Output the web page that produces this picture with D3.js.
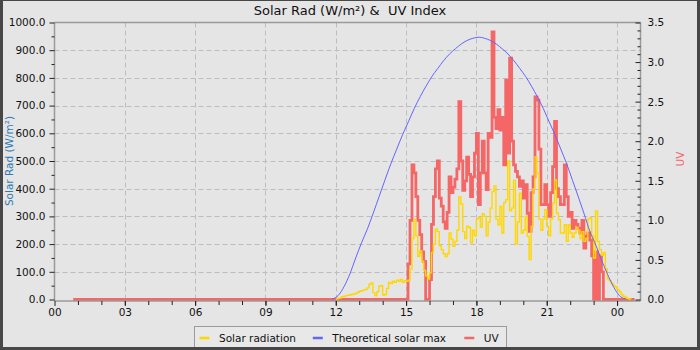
<!DOCTYPE html>
<html><head><meta charset="utf-8">
<script src="https://cdn.jsdelivr.net/npm/d3@7"></script>
<style>
body{margin:0;background:#e5e5e5;}
svg{display:block;font-family:"DejaVu Sans",sans-serif;}
</style>
</head><body>
<svg id="chart" width="700" height="350"></svg>
<script>
// ---------- texts / ticks ----------
const chartTitle = "Solar Rad (W/m²) &  UV Index";
const leftAxisLabel = "Solar Rad (W/m²)";
const rightAxisLabel = "UV";
const xTickHours = [0, 3, 6, 9, 12, 15, 18, 21, 24];
const xTickLabels = ["00", "03", "06", "09", "12", "15", "18", "21", "00"];
const leftTicks = [0, 100, 200, 300, 400, 500, 600, 700, 800, 900, 1000];
const rightTicks = [0, 0.5, 1.0, 1.5, 2.0, 2.5, 3.0, 3.5];
const legendLabels = ["Solar radiation", "Theoretical solar max", "UV"];

// ---------- data ----------
const stepMinutes = 5;
// Solar radiation (W/m²), every 5 min from 12:00
const radStart = "12:00";
const radValues = [
  2,4,6,10,12,14,15,17,18,20,22,26,30,32,34,36,42,55,60,25,14,28,48,50,16,18,40,62,58,66,62,70,66,72,62,68,
  66,70,110,220,290,230,156,175,138,105,86,74,96,170,200,255,245,195,180,165,155,165,240,218,192,210,250,370,345,245,
  220,265,260,205,250,230,290,295,262,310,300,
  230,280,330,390,410,290,270,336,240,350,360,500,320,330,430,200,280,384,240,250,300,228,144,264,400,515,456,290,250,290,
  324,264,230,290,348,432,312,288,240,240,
  270,210,270,240,225,240,260,250,220,245,210,220,290,295,230,150,320,210,180,160,170,110,75,68,58,50,46,36,28,18,
  12,8,4,2,0
];
// Theoretical solar max (W/m²), every 15 min from 11:51
const theoStart = "11:51";
const theoStepMinutes = 15;
const theoValues = [
  2,14,46,92,150,205,255,312,372,432,490,543,595,642,690,732,770,805,834,862,886,905,922,935,943,947,
  943,935,922,905,886,862,834,805,770,732,690,642,595,543,490,430,370,308,244,195,140,90,46,14,2
];
// UV index: zero from 00:48, then every 5 min from 15:00
const uvLeadTimes = ["00:48"];
const uvLeadValues = [0];
const uvStart = "15:00";
const uvValues = [
  0,0.45,1.0,1.7,1.6,1.3,1.0,0.82,0.6,0.48,0,0,0.25,0.95,1.3,1.65,1.75,1.28,1.18,0.98,
  0.9,1.1,1.55,1.35,1.42,1.52,1.65,2.5,1.75,1.38,1.5,1.8,1.58,1.3,1.55,1.85,2.1,1.2,1.6,2.0,
  1.6,1.39,2.1,2.05,3.38,2.3,2.16,2.4,2.14,2.3,1.7,2.77,1.85,3.05,2.0,1.7,1.62,1.55,1.43,1.5,
  1.28,1.45,1.09,0.86,1.35,1.55,2.56,2.52,1.9,1.2,1.2,1.45,1.2,1.05,1.35,1.68,2.25,1.4,1.3,1.2,
  1.2,1.7,1.3,1.05,1.1,0.9,1.0,0.95,0.9,0.84,1.0,0.65,0.8,0.84,0.75,0.55,0,0.6,0,0.55,
  0.35,0,0,0,0,0,0,0,0,0,0,0,0,0,0,0,0,0
];

// ---------- helpers ----------
const toH = s => { const [h, m] = s.split(":").map(Number); return h + m / 60; };
const radSeries = radValues.map((v, i) => ({t: toH(radStart) + i * stepMinutes / 60, v}));
const theoSeries = theoValues.map((v, i) => ({t: toH(theoStart) + i * theoStepMinutes / 60, v}));
const uvSeries = uvLeadTimes.map((s, i) => ({t: toH(s), v: uvLeadValues[i]}))
  .concat(uvValues.map((v, i) => ({t: toH(uvStart) + i * stepMinutes / 60, v})));

// ---------- layout ----------
const W = 700, H = 350;
const L = 54.5, R = 640.5, T = 22.5, B = 299.5;
const colSolar = "#ffd700", colTheo = "#6464ff", colUV = "#f56666", colLeftLbl = "#2b7ab3";
const svg = d3.select("#chart");

const x = d3.scaleLinear().domain([0, 25]).range([L, R]);
const yL = d3.scaleLinear().domain([0, 1000]).range([B, T]);
const yR = d3.scaleLinear().domain([0, 3.5]).range([B, T]);

svg.append("rect").attr("width", W).attr("height", H).attr("fill", "#e5e5e5");

// grid
const grid = svg.append("g").attr("stroke", "#bdbdbd").attr("stroke-width", 1).attr("stroke-dasharray", "5,3");
grid.selectAll("line.h").data(leftTicks.filter(d => d > 0 && d < 1000)).join("line")
  .attr("x1", L).attr("x2", R).attr("y1", d => Math.round(yL(d)) + 0.5).attr("y2", d => Math.round(yL(d)) + 0.5);
grid.selectAll("line.v").data(xTickHours.filter(d => d > 0)).join("line")
  .attr("y1", T).attr("y2", B + 1).attr("x1", d => Math.round(x(d)) + 0.5).attr("x2", d => Math.round(x(d)) + 0.5);

// series
const clipId = "plotclip";
svg.append("clipPath").attr("id", clipId).append("rect").attr("x", L).attr("y", T - 2).attr("width", R - L).attr("height", B - T + 4);
const plot = svg.append("g").attr("clip-path", `url(#${clipId})`);

plot.append("path").datum(uvSeries)
  .attr("fill", "none").attr("stroke", colUV).attr("stroke-width", 2.8)
  .attr("d", d3.line().x(d => x(d.t)).y(d => yR(d.v)).curve(d3.curveStepAfter));
plot.append("path").datum(radSeries)
  .attr("fill", "none").attr("stroke", colSolar).attr("stroke-width", 1.4)
  .attr("d", d3.line().x(d => x(d.t)).y(d => yL(d.v)).curve(d3.curveStepAfter));
plot.append("path").datum(theoSeries)
  .attr("fill", "none").attr("stroke", colTheo).attr("stroke-width", 1)
  .attr("d", d3.line().x(d => x(d.t)).y(d => yL(d.v)).curve(d3.curveMonotoneX));

// frame lines
const frame = svg.append("g").attr("stroke", "#9a9a9a").attr("stroke-width", 1.5);
frame.append("line").attr("x1", L).attr("x2", L).attr("y1", T).attr("y2", B + 1.5);
frame.append("line").attr("x1", R).attr("x2", R).attr("y1", T).attr("y2", B + 1.5);
frame.append("line").attr("x1", L).attr("x2", R).attr("y1", T).attr("y2", T);
frame.append("line").attr("x1", L).attr("x2", R).attr("y1", B + 1.5).attr("y2", B + 1.5);

function styleAxis(g) {
  g.select(".domain").remove();
  g.selectAll(".tick line").attr("stroke", "#222");
  g.selectAll(".tick text").attr("fill", "#111").style("font-size", "10.5px").style("font-family", "DejaVu Sans");
}

// bottom axis
const labelOf = h => xTickLabels[xTickHours.indexOf(h)];
svg.append("g").attr("transform", `translate(0,${B + 1.5})`)
  .call(d3.axisBottom(x).tickValues(d3.range(1, 25)).tickSize(4).tickFormat(""))
  .call(styleAxis);
svg.append("g").attr("transform", `translate(0,${B + 1.5})`)
  .call(d3.axisBottom(x).tickValues(xTickHours).tickSize(5).tickPadding(3).tickFormat(labelOf))
  .call(styleAxis);

// left axis
svg.append("g").attr("transform", `translate(${L},0)`)
  .call(d3.axisLeft(yL).tickValues(leftTicks.slice(0, -1).map(d => d + 50)).tickSize(3).tickFormat(""))
  .call(styleAxis);
svg.append("g").attr("transform", `translate(${L},0)`)
  .call(d3.axisLeft(yL).tickValues(leftTicks).tickSize(5).tickPadding(4).tickFormat(d3.format(".1f")))
  .call(styleAxis);

// right axis (ticks pointing inward)
const minorR = d3.range(0, 35).map(i => i / 10).filter(v => Math.abs(v * 2 - Math.round(v * 2)) > 1e-6);
svg.append("g").attr("transform", `translate(${R},0)`)
  .call(d3.axisRight(yR).tickValues(minorR).tickSizeInner(-3).tickSizeOuter(0).tickFormat(""))
  .call(styleAxis);
svg.append("g").attr("transform", `translate(${R},0)`)
  .call(d3.axisRight(yR).tickValues(rightTicks).tickSizeInner(-5).tickSizeOuter(0).tickPadding(7).tickFormat(d3.format(".1f")))
  .call(styleAxis);

// title & axis labels
svg.append("text").attr("x", 350).attr("y", 15).attr("text-anchor", "middle")
  .style("font-size", "13px").style("white-space", "pre").attr("xml:space", "preserve")
  .attr("fill", "#111").text(chartTitle);
svg.append("text").attr("transform", "translate(13,161) rotate(-90)").attr("text-anchor", "middle")
  .style("font-size", "10.5px").attr("fill", colLeftLbl).text(leftAxisLabel);
svg.append("text").attr("transform", "translate(684,159) rotate(-90)").attr("text-anchor", "middle")
  .style("font-size", "10.5px").attr("fill", colUV).text(rightAxisLabel);

// legend
const lg = svg.append("g");
lg.append("rect").attr("x", 194.5).attr("y", 326.5).attr("width", 312).attr("height", 24)
  .attr("fill", "#e8e8e8").attr("stroke", "#9a9a9a");
const legCols = [colSolar, colTheo, colUV];
const legX = [199.5, 312.8, 464.3];
legendLabels.forEach((lab, i) => {
  lg.append("line").attr("x1", legX[i]).attr("x2", legX[i] + 10).attr("y1", 338).attr("y2", 338)
    .attr("stroke", legCols[i]).attr("stroke-width", 2.5);
  lg.append("text").attr("x", legX[i] + 19.5).attr("y", 341.5).style("font-size", "10.5px")
    .attr("fill", "#111").text(lab);
});

// outer dark border
const bd = svg.append("g").attr("fill", "#474747");
bd.append("rect").attr("x", 0).attr("y", 0).attr("width", W).attr("height", 1);
bd.append("rect").attr("x", 0).attr("y", 0).attr("width", 3).attr("height", H);
bd.append("rect").attr("x", W - 3).attr("y", 0).attr("width", 3).attr("height", H);
bd.append("rect").attr("x", 0).attr("y", H - 3).attr("width", W).attr("height", 3);
</script>
</body></html>
